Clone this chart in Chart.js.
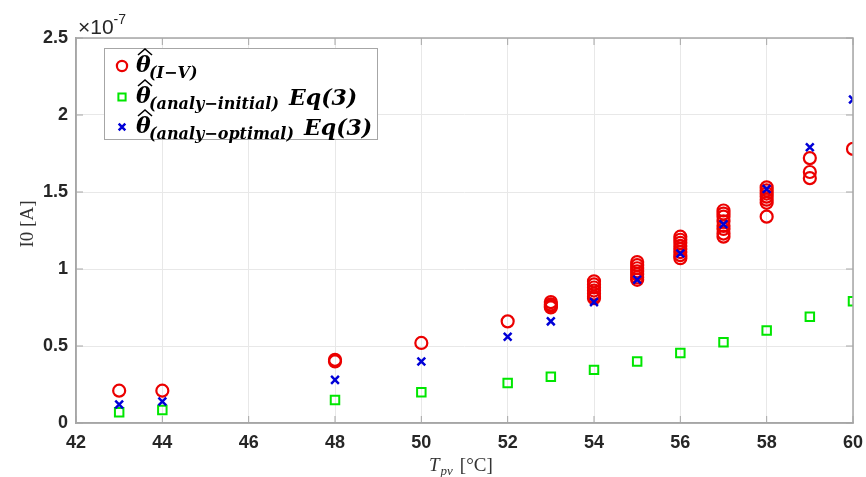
<!DOCTYPE html>
<html>
<head>
<meta charset="utf-8">
<script src="https://cdn.jsdelivr.net/npm/chart.js@4"></script>
<style>
  html, body { margin: 0; padding: 0; background: #fff; }
  #wrap { width: 866px; height: 477px; position: relative; }
</style>
</head>
<body>
<div id="wrap"><canvas id="grafico"></canvas></div>
<script>
// valores en unidades de 1e-7 A
const ivTemp = [43, 44, 48, 48, 50, 52, 53, 53, 53, 53,
  54, 54, 54, 54, 54, 54, 54, 55, 55, 55, 55, 55, 55, 55,
  56, 56, 56, 56, 56, 56, 56, 56, 57, 57, 57, 57, 57, 57, 57, 57,
  58, 58, 58, 58, 58, 58, 58, 59, 59, 59, 60];
const ivI0 = [0.21, 0.21, 0.41, 0.40, 0.52, 0.66, 0.785, 0.77, 0.76, 0.75,
  0.92, 0.90, 0.88, 0.86, 0.84, 0.82, 0.81, 1.045, 1.025, 1.005, 0.985, 0.965, 0.945, 0.93,
  1.21, 1.19, 1.17, 1.15, 1.13, 1.11, 1.09, 1.07, 1.38, 1.36, 1.34, 1.31, 1.28, 1.26, 1.23, 1.21,
  1.53, 1.51, 1.49, 1.47, 1.45, 1.43, 1.34, 1.72, 1.63, 1.59, 1.78];

const analyTemp = [43, 44, 48, 50, 52, 53, 54, 55, 56, 57, 58, 59, 60];
const initialI0 = [0.07, 0.085, 0.15, 0.20, 0.26, 0.30, 0.345, 0.40, 0.455, 0.525, 0.60, 0.69, 0.79];
const optimalI0 = [0.12, 0.14, 0.28, 0.40, 0.56, 0.66, 0.785, 0.93, 1.10, 1.29, 1.52, 1.79, 2.10];

const xTicks = [42, 44, 46, 48, 50, 52, 54, 56, 58, 60];
const yTicks = [0, 0.5, 1, 1.5, 2, 2.5];

const ROJO = 'rgb(235, 0, 0)';
const VERDE = 'rgb(0, 230, 0)';
const AZUL = 'rgb(0, 0, 215)';

function puntos(xs, ys) {
    return xs.map((x, i) => ({ x: x, y: ys[i] }));
}

// marco, marcas interiores, exponente y títulos de ejes
const extras = {
    id: 'extras',
    afterDraw(chart) {
        const ctx = chart.ctx;
        const a = chart.chartArea;
        const sx = chart.scales.x, sy = chart.scales.y;
        ctx.save();

        ctx.strokeStyle = '#a6a6a6';
        ctx.lineWidth = 1.5;
        ctx.strokeRect(a.left, a.top, a.right - a.left, a.bottom - a.top);

        ctx.lineWidth = 1;
        ctx.beginPath();
        xTicks.forEach(t => {
            const px = sx.getPixelForValue(t);
            ctx.moveTo(px, a.bottom); ctx.lineTo(px, a.bottom - 7);
            ctx.moveTo(px, a.top); ctx.lineTo(px, a.top + 7);
        });
        yTicks.forEach(t => {
            const py = sy.getPixelForValue(t);
            ctx.moveTo(a.left, py); ctx.lineTo(a.left + 7, py);
            ctx.moveTo(a.right, py); ctx.lineTo(a.right - 7, py);
        });
        ctx.stroke();

        // exponente
        ctx.fillStyle = '#262626';
        ctx.textBaseline = 'alphabetic';
        ctx.textAlign = 'left';
        ctx.font = '21px "Liberation Sans"';
        ctx.fillText('×10', a.left + 2, 34);
        const w10 = ctx.measureText('×10').width;
        ctx.font = '14px "Liberation Sans"';
        ctx.fillText('-7', a.left + 2 + w10, 24);

        // título eje x
        ctx.fillStyle = '#333';
        ctx.font = 'italic 19px "Liberation Serif"';
        let x0 = 429;
        ctx.fillText('T', x0, 471);
        x0 += ctx.measureText('T').width;
        ctx.font = 'italic 13px "Liberation Serif"';
        ctx.fillText('pv', x0 + 1, 475);
        x0 += ctx.measureText('pv').width + 8;
        ctx.font = '19px "Liberation Serif"';
        ctx.fillText('[°C]', x0, 471);

        // título eje y
        ctx.save();
        ctx.translate(33, 224);
        ctx.rotate(-Math.PI / 2);
        ctx.textAlign = 'center';
        ctx.font = '19px "Liberation Serif"';
        ctx.fillText('I0 [A]', 0, 0);
        ctx.restore();
        ctx.restore();
    }
};

// leyenda con subíndices
const leyenda = {
    id: 'leyenda',
    afterDraw(chart) {
        const ctx = chart.ctx;
        const filas = [
            { ds: 0, y: 72, sub: '(I−V)', eq: '' },
            { ds: 1, y: 103, sub: '(analy−initial)', eq: 'Eq(3)' },
            { ds: 2, y: 133, sub: '(analy−optimal)', eq: 'Eq(3)' }
        ];
        ctx.save();
        ctx.fillStyle = '#fff';
        ctx.fillRect(104.5, 48.5, 273, 91);
        ctx.strokeStyle = '#a6a6a6';
        ctx.lineWidth = 1;
        ctx.strokeRect(104.5, 48.5, 273, 91);

        filas.forEach(f => {
            const d = chart.data.datasets[f.ds];
            ctx.strokeStyle = d.borderColor;
            ctx.fillStyle = 'rgba(0,0,0,0)';
            ctx.lineWidth = d.borderWidth;
            Chart.helpers.drawPoint(ctx, {
                pointStyle: d.pointStyle,
                radius: d.pointRadius * 0.85,
                borderWidth: d.borderWidth
            }, 122, f.y - 6);

            ctx.fillStyle = '#000';
            ctx.textAlign = 'left';
            ctx.textBaseline = 'alphabetic';
            ctx.font = 'bold italic 22px "DejaVu Serif"';
            ctx.fillText('θ', 136, f.y);
            // acento circunflejo
            ctx.strokeStyle = '#000';
            ctx.lineWidth = 1.6;
            ctx.beginPath();
            ctx.moveTo(138, f.y - 17);
            ctx.lineTo(145, f.y - 23);
            ctx.lineTo(152, f.y - 17);
            ctx.stroke();

            ctx.font = 'bold italic 16px "DejaVu Serif"';
            ctx.fillText(f.sub, 149, f.y + 6);
            const ws = ctx.measureText(f.sub).width;
            if (f.eq) {
                ctx.font = 'bold italic 22px "DejaVu Serif"';
                ctx.fillText(f.eq, 149 + ws + 10, f.y + 2);
            }
        });
        ctx.restore();
    }
};

const ctx = document.getElementById('grafico').getContext('2d');
new Chart(ctx, {
    type: 'scatter',
    data: {
        datasets: [
            {
                label: 'θ(I−V)',
                data: puntos(ivTemp, ivI0),
                pointStyle: 'circle',
                pointRadius: 6,
                borderWidth: 2.2,
                borderColor: ROJO,
                backgroundColor: 'rgba(0,0,0,0)',
                order: 3
            },
            {
                label: 'θ(analy−initial) Eq(3)',
                data: puntos(analyTemp, initialI0),
                pointStyle: 'rect',
                pointRadius: 6,
                borderWidth: 2,
                borderColor: VERDE,
                backgroundColor: 'rgba(0,0,0,0)',
                order: 2
            },
            {
                label: 'θ(analy−optimal) Eq(3)',
                data: puntos(analyTemp, optimalI0),
                pointStyle: 'crossRot',
                pointRadius: 5.5,
                borderWidth: 2.5,
                borderColor: AZUL,
                backgroundColor: AZUL,
                order: 1
            }
        ]
    },
    options: {
        responsive: true,
        maintainAspectRatio: false,
        devicePixelRatio: 1,
        animation: false,
        layout: { padding: { top: 38, right: 13, left: 0, bottom: 0 } },
        plugins: {
            legend: { display: false },
            tooltip: { enabled: false }
        },
        scales: {
            x: {
                type: 'linear',
                min: 42,
                max: 60,
                afterBuildTicks: s => { s.ticks = xTicks.map(v => ({ value: v })); },
                afterFit: s => { s.height = 54; s.paddingLeft = 0; s.paddingRight = 0; },
                ticks: {
                    padding: 9,
                    color: '#262626',
                    callback: v => String(v),
                    font: { family: '"Liberation Sans", Arial', size: 18, weight: 'bold' }
                },
                grid: { color: '#e8e8e8', drawTicks: false },
                border: { color: '#a6a6a6', width: 1.5 }
            },
            y: {
                type: 'linear',
                min: 0,
                max: 2.5,
                afterBuildTicks: s => { s.ticks = yTicks.map(v => ({ value: v })); },
                afterFit: s => { s.width = 76; s.paddingTop = 0; s.paddingBottom = 0; },
                ticks: {
                    padding: 8,
                    color: '#262626',
                    callback: v => String(v),
                    font: { family: '"Liberation Sans", Arial', size: 18, weight: 'bold' }
                },
                grid: { color: '#e8e8e8', drawTicks: false },
                border: { color: '#a6a6a6', width: 1.5 }
            }
        }
    },
    plugins: [extras, leyenda]
});
</script>
</body>
</html>
